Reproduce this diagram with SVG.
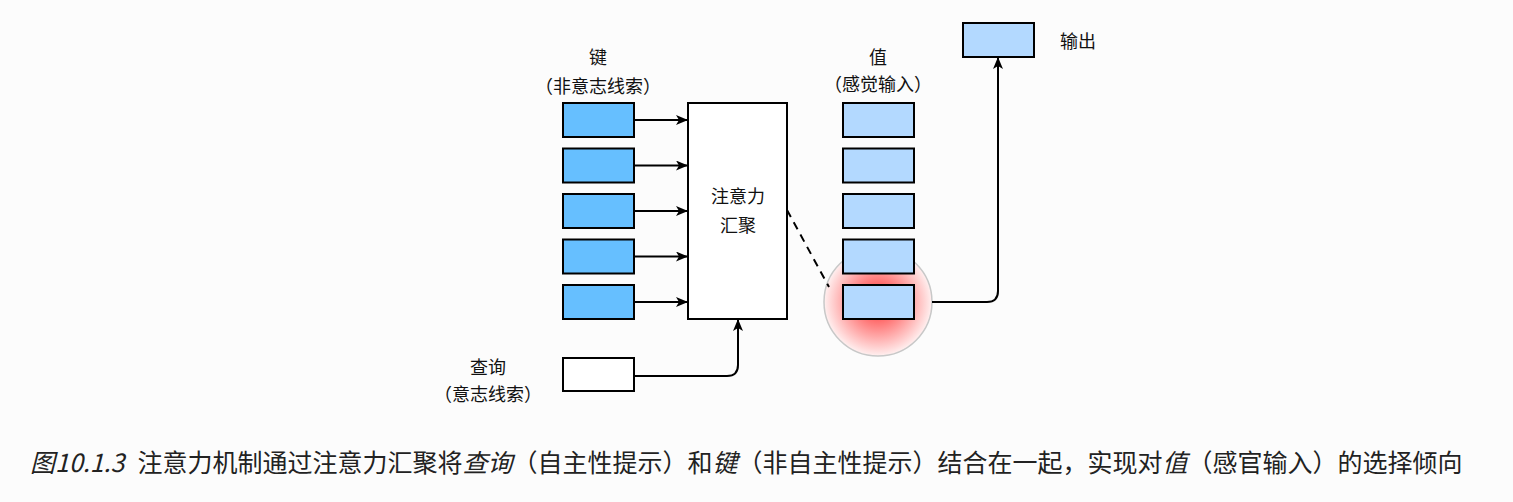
<svg xmlns="http://www.w3.org/2000/svg" width="1513" height="502" viewBox="0 0 1513 502">
<defs>
<style>
.key{fill:#66bfff;stroke:#000;stroke-width:2}
.val{fill:#b3d9ff;stroke:#000;stroke-width:2}
.lbl{font-family:"Noto Sans CJK SC","Noto Sans",sans-serif;font-size:18px;fill:#111;text-anchor:middle}
.cap{font-family:"Noto Sans CJK SC","Noto Sans",sans-serif;font-size:25px;fill:#222}
.conn{fill:none;stroke:#000;stroke-width:2}
</style>
<marker id="ah" viewBox="0 0 12 10" refX="12" refY="5" markerWidth="12" markerHeight="10" markerUnits="userSpaceOnUse" orient="auto">
<path d="M0,0 L12,5 L0,10 L3,5 z" fill="#000"/>
</marker>
<radialGradient id="glow" cx="0.5" cy="0.5" r="0.5">
<stop offset="0" stop-color="#ff2a2a"/>
<stop offset="0.5" stop-color="#ff8c8c"/>
<stop offset="1" stop-color="#fff0f0"/>
</radialGradient>
</defs>
<rect width="1513" height="502" fill="#fcfcfc"/>

<g id="highlight">
<circle cx="878" cy="302" r="54" fill="url(#glow)" stroke="#c8c8c8" stroke-width="1.5"/>
</g>

<g id="keys">
<text class="lbl" x="598" y="64">键</text>
<text class="lbl" x="598" y="93">（非意志线索）</text>
<rect class="key" x="563" y="103" width="71" height="34"/>
<rect class="key" x="563" y="148.5" width="71" height="34"/>
<rect class="key" x="563" y="194" width="71" height="34"/>
<rect class="key" x="563" y="239.5" width="71" height="34"/>
<rect class="key" x="563" y="285" width="71" height="34"/>
</g>

<g id="attention">
<rect x="688" y="103" width="99" height="216" fill="#fff" stroke="#000" stroke-width="2"/>
<text class="lbl" x="738" y="203">注意力</text>
<text class="lbl" x="738" y="232">汇聚</text>
</g>

<g id="values">
<text class="lbl" x="878" y="64">值</text>
<text class="lbl" x="878" y="91">（感觉输入）</text>
<rect class="val" x="843" y="103" width="71" height="34"/>
<rect class="val" x="843" y="148.5" width="71" height="34"/>
<rect class="val" x="843" y="194" width="71" height="34"/>
<rect class="val" x="843" y="239.5" width="71" height="34"/>
<rect class="val" x="843" y="285" width="71" height="34"/>
</g>

<g id="output">
<rect class="val" x="963" y="23" width="71" height="34"/>
<text class="lbl" x="1078" y="48">输出</text>
</g>

<g id="query">
<text class="lbl" x="488" y="374">查询</text>
<text class="lbl" x="488" y="401">（意志线索）</text>
<rect x="563" y="358" width="71" height="33" fill="#fff" stroke="#000" stroke-width="2"/>
</g>

<g id="connectors">
<line class="conn" x1="634" y1="120" x2="688" y2="120" marker-end="url(#ah)"/>
<line class="conn" x1="634" y1="165.5" x2="688" y2="165.5" marker-end="url(#ah)"/>
<line class="conn" x1="634" y1="211" x2="688" y2="211" marker-end="url(#ah)"/>
<line class="conn" x1="634" y1="256.5" x2="688" y2="256.5" marker-end="url(#ah)"/>
<line class="conn" x1="634" y1="302" x2="688" y2="302" marker-end="url(#ah)"/>
<path class="conn" d="M634,376 H727 Q738,376 738,365 V319" marker-end="url(#ah)"/>
<path class="conn" d="M932,302 H987 Q998,302 998,291 V57" marker-end="url(#ah)"/>
<line class="conn" x1="787" y1="210" x2="829" y2="287" stroke-dasharray="8,6"/>
</g>

<g id="caption">
<text class="cap" x="30" y="472"><tspan font-style="italic">图10.1.3</tspan><tspan dx="13">注意力机制通过注意力汇聚将</tspan><tspan font-style="italic">查询</tspan>（自主性提示）和<tspan font-style="italic">键</tspan>（非自主性提示）结合在一起，实现对<tspan font-style="italic">值</tspan>（感官输入）的选择倾向</text>
</g>
</svg>
